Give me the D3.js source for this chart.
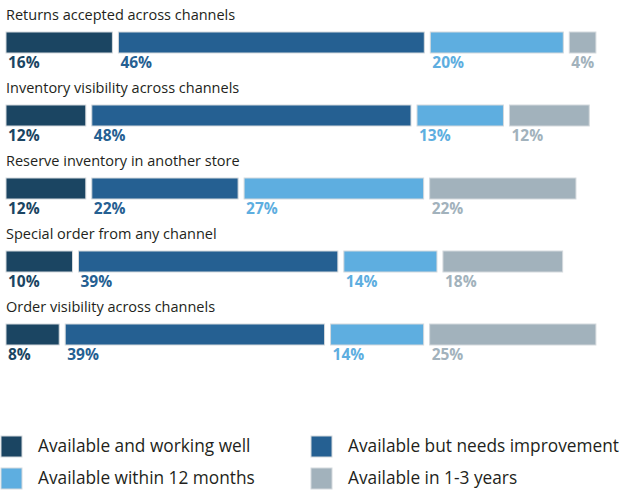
<!DOCTYPE html>
<html>
<head>
<meta charset="utf-8">
<script src="https://cdn.jsdelivr.net/npm/d3@7"></script>
<style>
  html, body { margin: 0; padding: 0; background: #fff; }
  svg { display: block; font-family: "Open Sans", "Noto Sans", sans-serif; }
</style>
</head>
<body>
<svg id="chart" width="621" height="492"></svg>
<script>
// Omnichannel capabilities, share of respondents by status
const categories = [
  "Returns accepted across channels",
  "Inventory visibility across channels",
  "Reserve inventory in another store",
  "Special order from any channel",
  "Order visibility across channels"
];
const seriesNames = [
  "Available and working well",
  "Available but needs improvement",
  "Available within 12 months",
  "Available in 1-3 years"
];
const workingWell      = [16, 12, 12, 10, 8];
const needsImprovement = [46, 48, 22, 39, 39];
const within12Months   = [20, 13, 27, 14, 14];
const in1to3Years      = [4, 12, 22, 18, 25];

const colors = ["#1b4562", "#256092", "#5eaee0", "#a2b2bc"];
const series = [workingWell, needsImprovement, within12Months, in1to3Years];

const svg = d3.select("#chart");
const left = 6, gap = 6;

const x = d3.scaleLinear().domain([0, 100]).range([0, 665]);
const y = d3.scaleBand().domain(categories).range([32, 397]).paddingInner(0);
const barH = 21;

categories.forEach((cat, i) => {
  const g = svg.append("g").attr("transform", `translate(0,${y(cat)})`);
  g.append("text")
    .attr("x", 6).attr("y", -12)
    .attr("font-size", 14.5).attr("fill", "#231f20")
    .text(cat);

  let cursor = left;
  series.forEach((s, k) => {
    const v = s[i];
    const w = x(v);
    g.append("rect")
      .attr("x", cursor).attr("y", 0)
      .attr("width", w).attr("height", barH)
      .attr("fill", colors[k])
      .attr("stroke", "#d4d9dd").attr("stroke-width", 1);
    g.append("text")
      .attr("x", cursor + 2).attr("y", barH + 15)
      .attr("font-size", 15.5).attr("font-weight", 700)
      .attr("fill", colors[k])
      .text(v + "%");
    cursor += w + gap;
  });
});

// Legend in two columns
const legend = svg.append("g");
seriesNames.forEach((name, k) => {
  const col = k % 2, row = Math.floor(k / 2);
  const lx = col === 0 ? 1 : 311;
  const ly = 436 + row * 32;
  legend.append("rect")
    .attr("x", lx).attr("y", ly).attr("width", 21).attr("height", 21)
    .attr("fill", colors[k]).attr("stroke", "#d4d9dd").attr("stroke-width", 1);
  legend.append("text")
    .attr("x", lx + 37).attr("y", ly + 16)
    .attr("font-size", 17.3).attr("fill", "#231f20")
    .text(name);
});
</script>
</body>
</html>
